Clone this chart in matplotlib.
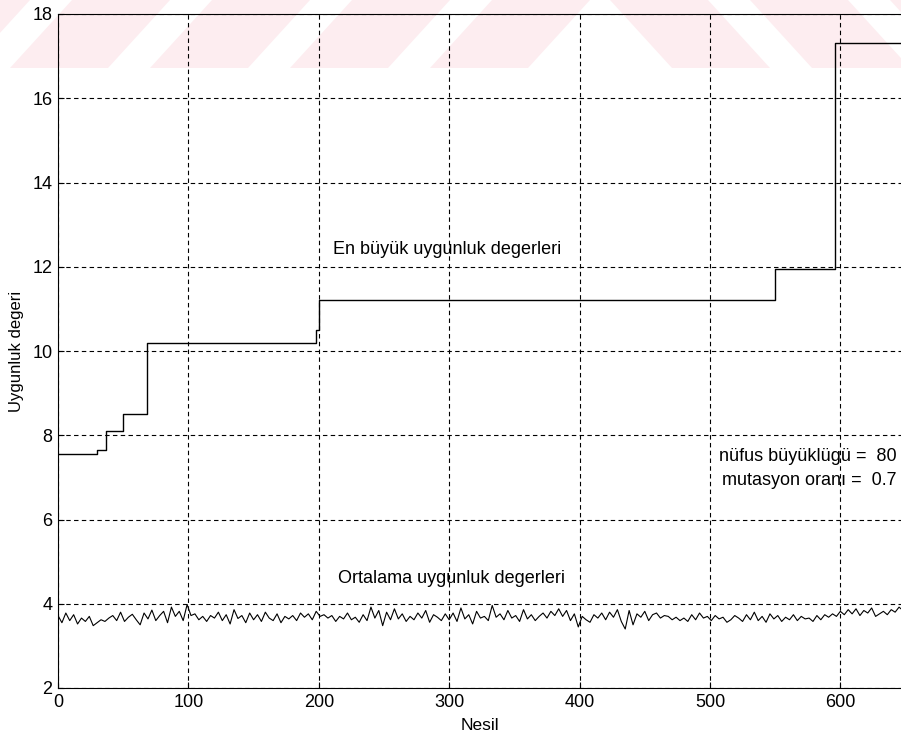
import numpy as np
import matplotlib.pyplot as plt
from matplotlib.patches import Polygon

### DATA

# best fitness (step changes: generation where the new value starts)
best_gen = [0, 30, 37, 50, 68, 198, 200, 550, 596, 648]
best_val = [7.55, 7.65, 8.1, 8.5, 10.2, 10.5, 11.2, 11.95, 17.3, 17.3]

# mean fitness, read every 3 generations
mean_val = [
    3.72, 3.55, 3.78, 3.60, 3.74, 3.52, 3.66, 3.58, 3.70, 3.48,
    3.55, 3.62, 3.58, 3.66, 3.72, 3.60, 3.80, 3.58, 3.68, 3.75,
    3.62, 3.50, 3.78, 3.64, 3.85, 3.60, 3.72, 3.82, 3.55, 3.92,
    3.70, 3.82, 3.60, 3.98, 3.72, 3.76, 3.62, 3.70, 3.58, 3.72,
    3.66, 3.80, 3.60, 3.74, 3.52, 3.86, 3.65, 3.72, 3.55, 3.78,
    3.62, 3.74, 3.58, 3.80, 3.66, 3.60, 3.76, 3.55, 3.70, 3.64,
    3.72, 3.60, 3.78, 3.68, 3.76, 3.62, 3.82, 3.70, 3.74, 3.66,
    3.72, 3.58, 3.70, 3.64, 3.78, 3.62, 3.68, 3.56, 3.74, 3.60,
    3.92, 3.66, 3.84, 3.48, 3.80, 3.62, 3.88, 3.64, 3.76, 3.58,
    3.70, 3.62, 3.78, 3.66, 3.84, 3.56, 3.74, 3.68, 3.60, 3.76,
    3.62, 3.78, 3.58, 3.90, 3.64, 3.74, 3.52, 3.82, 3.66, 3.70,
    3.60, 3.96, 3.68, 3.76, 3.62, 3.84, 3.66, 3.72, 3.58, 3.86,
    3.64, 3.74, 3.60, 3.70, 3.78, 3.66, 3.82, 3.72, 3.88, 3.70,
    3.84, 3.60, 3.76, 3.45, 3.70, 3.62, 3.56, 3.74, 3.66, 3.78,
    3.62, 3.80, 3.68, 3.86, 3.58, 3.40, 3.84, 3.50, 3.76, 3.68,
    3.82, 3.60, 3.74, 3.78, 3.66, 3.72, 3.70, 3.62, 3.68, 3.60,
    3.66, 3.58, 3.74, 3.62, 3.78, 3.66, 3.70, 3.60, 3.72, 3.64,
    3.68, 3.56, 3.62, 3.72, 3.66, 3.58, 3.74, 3.62, 3.80, 3.60,
    3.70, 3.56, 3.76, 3.64, 3.72, 3.58, 3.68, 3.62, 3.74, 3.60,
    3.70, 3.64, 3.66, 3.58, 3.72, 3.62, 3.74, 3.68, 3.76, 3.70,
    3.82, 3.74, 3.86, 3.76, 3.88, 3.72, 3.84, 3.78, 3.90, 3.70,
    3.76, 3.82, 3.74, 3.86, 3.80, 3.92, 3.84,
]
mean_gen = np.arange(len(mean_val)) * 3

xticks = [0, 100, 200, 300, 400, 500, 600]
yticks = [2, 4, 6, 8, 10, 12, 14, 16, 18]

### FIGURE

plt.rcParams['font.family'] = ['Liberation Sans', 'DejaVu Sans']
fig = plt.figure(figsize=(9.01, 7.43), dpi=100)

# faint watermark stripes along the top of the scan
W, H = 901, 743
def px(x, y):
    return (x / W, 1 - y / H)
band = 68
pink = '#fdedf0'
for x0 in range(-130, 560, 140):  # "/" stripes
    pts = [px(x0, band), px(x0 + 98, band), px(x0 + 98 + 62, 0), px(x0 + 62, 0)]
    fig.patches.append(Polygon(pts, closed=True, transform=fig.transFigure,
                               facecolor=pink, edgecolor='none', zorder=0))
for x0 in range(610, 1000, 140):  # "\" stripes
    pts = [px(x0, 0), px(x0 + 98, 0), px(x0 + 98 + 62, band), px(x0 + 62, band)]
    fig.patches.append(Polygon(pts, closed=True, transform=fig.transFigure,
                               facecolor=pink, edgecolor='none', zorder=0))

ax = fig.add_axes([58 / W, 1 - 688 / H, 1 - 58 / W, (688 - 14) / H])
ax.set_zorder(2)
ax.patch.set_alpha(0)

ax.plot(best_gen, best_val, color='black', lw=1.0, drawstyle='steps-post')
ax.plot(mean_gen, mean_val, color='black', lw=0.8)

ax.set_xlim(0, 646.5)
ax.set_ylim(2, 18)
ax.set_xticks(xticks)
ax.set_yticks(yticks)
ax.tick_params(direction='in', labelsize=13, length=4, pad=4)
ax.grid(True, color='black', linestyle=(0, (4, 3)), lw=0.8)
ax.spines['right'].set_visible(False)

ax.set_xlabel('Nesil', fontsize=12.5, labelpad=5)
ax.set_ylabel('Uygunluk degeri', fontsize=12, labelpad=6)

ax.text(211, 12.4, 'En büyük uygunluk degerleri', fontsize=13, va='center')
ax.text(215, 4.6, 'Ortalama uygunluk degerleri', fontsize=13, va='center')
ax.text(643, 7.5, 'nüfus büyüklügü =  80', fontsize=13, ha='right', va='center')
ax.text(643, 6.93, 'mutasyon oranı =  0.7', fontsize=13, ha='right', va='center')

fig.savefig('out.png', dpi=100)
